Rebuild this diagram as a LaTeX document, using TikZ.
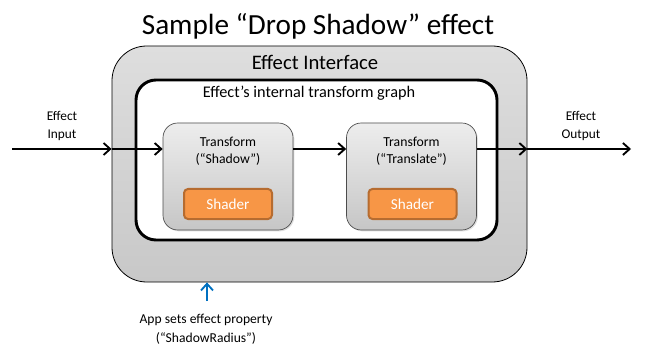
\documentclass[tikz,border=0pt]{standalone}
\usepackage{fontspec}
\setmainfont{Carlito}
\usetikzlibrary{positioning, arrows.meta, shadows}
\definecolor{FxGrayTop}{RGB}{222,222,222}
\definecolor{FxGrayBot}{RGB}{200,200,200}
\definecolor{FxBoxTop}{RGB}{237,237,237}
\definecolor{FxBoxBot}{RGB}{198,198,198}
\definecolor{FxOrange}{RGB}{247,150,70}
\definecolor{FxOrangeDk}{RGB}{182,108,48}
\definecolor{FxBlue}{RGB}{0,112,192}
\tikzset{
  flow/.style={line width=1.5pt, -{Straight Barb[length=5pt, width=9pt, line width=1.4pt]}},
  propflow/.style={FxBlue, line width=1.5pt, -{Straight Barb[length=5pt, width=9pt, line width=1.4pt]}},
  xformbox/.style={draw=black!70, line width=0.5pt, rounded corners=11pt,
    top color=FxBoxTop, bottom color=FxBoxBot, minimum width=97.5pt, minimum height=80.25pt,
    drop shadow={opacity=0.25, shadow xshift=1pt, shadow yshift=-1pt}},
  shaderbox/.style={draw=FxOrangeDk, line width=1.5pt, fill=FxOrange, rounded corners=3pt,
    minimum width=66pt, minimum height=22.5pt, text=white, font=\fontsize{11.4}{14}\selectfont},
  smalltext/.style={align=center, font=\fontsize{10.3}{12.75}\selectfont}
}
\begin{document}
\begin{tikzpicture}[x=0.75pt, y=-0.75pt]
        \useasboundingbox (0,0) rectangle (645,363);
        % Title
        \node[anchor=base, font=\fontsize{21.9}{24}\selectfont] (title) at (318,35) {Sample “Drop Shadow” effect};
        % Effect interface and inner graph
        \node[draw=black, line width=0.6pt, rounded corners=26pt, top color=FxGrayTop, bottom color=FxGrayBot,
              minimum width=311.25pt, minimum height=177pt] (outer) at (319.5,164) {};
        \node[draw=black, line width=2.2pt, rounded corners=15pt, fill=white,
              minimum width=270.75pt, minimum height=120pt,
              drop shadow={opacity=0.2, shadow xshift=1pt, shadow yshift=-1pt}] (inner) at (316.5,160) {};
        \node[anchor=base, font=\fontsize{15.5}{18}\selectfont] (ifacelbl) at (315,70) {Effect Interface};
        \node[anchor=base, font=\fontsize{12.2}{14}\selectfont] (graphlbl) at (309,98) {Effect’s internal transform graph};
        % Transforms
        \node[xformbox] (shadow) at (228,176.5) {};
        \node[xformbox] (translate) at (411.5,176.5) {};
        \node[smalltext] (shadowlbl) at (228,151.5) {Transform\\(“Shadow”)};
        \node[smalltext] (translatelbl) at (411.5,151.5) {Transform\\(“Translate”)};
        \node[shaderbox] (shaderA) at (228,204) {Shader};
        \node[shaderbox] (shaderB) at (412.5,204) {Shader};
        % Input / output
        \coordinate (in) at (12,149);
        \coordinate (out) at (631,149);
        \node[smalltext, font=\fontsize{10}{13.5}\selectfont] (inlbl) at (62,126) {Effect\\Input};
        \node[smalltext, font=\fontsize{10}{13.5}\selectfont] (outlbl) at (581,126) {Effect\\Output};
        \draw[flow] (in) -- (in -| outer.west);
        \draw[flow] (in -| outer.west) -- (in -| shadow.west);
        \draw[flow] (in -| shadow.east) -- (in -| translate.west);
        \draw[flow] (in -| translate.east) -- (in -| outer.east);
        \draw[flow] (in -| outer.east) -- (out);
        % Property
        \coordinate (app) at (207,301);
        \node[smalltext, font=\fontsize{10.2}{14.25}\selectfont] (proplbl) at (206,329.5) {App sets effect property\\(“ShadowRadius”)};
        \draw[propflow] (app) -- (app |- outer.south);
      \end{tikzpicture}
\end{document}
